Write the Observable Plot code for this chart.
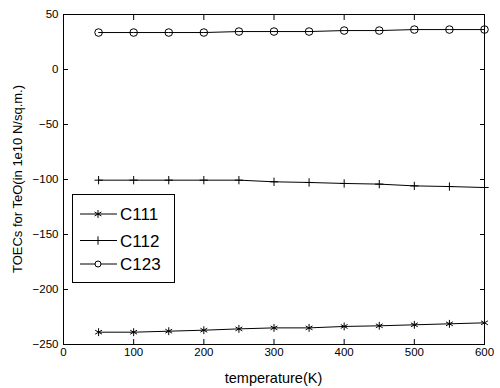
<!DOCTYPE html>
<html>
<head>
<meta charset="utf-8">
<script src="https://cdn.jsdelivr.net/npm/d3@7"></script>
<script src="https://cdn.jsdelivr.net/npm/@observablehq/plot@0.6"></script>
<style>
  html, body { margin: 0; padding: 0; background: #fff; }
  #wrap { position: relative; width: 500px; height: 388px; font-family: "Liberation Sans", Arial, sans-serif; }
  #legend { position: absolute; left: 72px; top: 194px; width: 101px; height: 87px; border: 1px solid #000; background: #fff; box-sizing: content-box; }
</style>
</head>
<body>
<div id="wrap"></div>
<script>
const temperatures = [50, 100, 150, 200, 250, 300, 350, 400, 450, 500, 550, 600];
const c111 = [-238.8, -238.8, -237.9, -237.0, -235.8, -234.9, -234.9, -233.6, -233.0, -232.1, -231.2, -230.3];
const c112 = [-100.6, -100.6, -100.6, -100.6, -100.6, -102.1, -102.7, -103.6, -104.2, -105.8, -106.4, -107.3];
const c123 = [33.6, 33.6, 33.6, 33.6, 34.5, 34.5, 34.5, 35.4, 35.4, 36.3, 36.3, 36.3];
const seriesNames = ["C111", "C112", "C123"];
const xTicks = [0, 100, 200, 300, 400, 500, 600];
const yTicks = [-250, -200, -150, -100, -50, 0, 50];
const xLabel = "temperature(K)";
const yLabel = "TOECs for TeO(in 1e10 N/sq.m.)";

const seriesValues = [c111, c112, c123];
const symbols = {C111: "asterisk", C112: "plus", C123: "circle"};
const radii = {C111: 3.7, C112: 2.8, C123: 3.8};

const rows = [];
seriesNames.forEach((name, i) => {
  temperatures.forEach((t, j) => rows.push({series: name, t, v: seriesValues[i][j]}));
});

const font = '"Liberation Sans", Arial, sans-serif';

const marks = [];
for (const name of seriesNames) {
  const d = rows.filter(r => r.series === name);
  marks.push(Plot.line(d, {x: "t", y: "v", stroke: "#000", strokeWidth: 1}));
  marks.push(Plot.dot(d, {x: "t", y: "v", symbol: () => symbols[name], r: radii[name], stroke: "#000", fill: "none", strokeWidth: 1}));
}

const chart = Plot.plot({
  width: 500,
  height: 388,
  marginLeft: 63,
  marginRight: 16,
  marginTop: 14,
  marginBottom: 44,
  style: {fontFamily: font, fontSize: "11.5px", background: "#fff", color: "#000", overflow: "visible"},
  x: {domain: [0, 600], ticks: xTicks},
  y: {domain: [-250, 50], ticks: yTicks},
  symbol: {type: "identity"},
  marks: [
    ...marks,
    Plot.frame({stroke: "#000", strokeWidth: 1}),
    Plot.axisX(xTicks, {anchor: "bottom", tickSize: -5, tickPadding: 8, fontSize: 11.5, label: null}),
    Plot.axisX(xTicks, {anchor: "top", tickSize: -5, tickFormat: () => "", label: null}),
    Plot.axisY(yTicks, {anchor: "left", tickSize: -5, tickPadding: 10, fontSize: 11.5, label: null}),
    Plot.axisY(yTicks, {anchor: "right", tickSize: -5, tickFormat: () => "", label: null})
  ]
});

const wrap = document.getElementById("wrap");
wrap.appendChild(chart);

// Axis titles, positioned from the plot's own scales
const sx = chart.scale("x"), sy = chart.scale("y");
const xMid = (sx.range[0] + sx.range[1]) / 2;
const yMid = (sy.range[0] + sy.range[1]) / 2;
const svg = d3.select(chart);
svg.append("text").attr("x", xMid).attr("y", sy.range[0] + 29).attr("dy", "0.71em")
  .attr("text-anchor", "middle").attr("font-family", font).attr("font-size", 14.5).attr("fill", "#000").text(xLabel);
svg.append("text").attr("transform", `translate(${sx.range[0] - 46},${yMid}) rotate(-90)`)
  .attr("text-anchor", "middle").attr("dy", "0.36em").attr("font-family", font).attr("font-size", 13).attr("fill", "#000").text(yLabel);

// Legend
const legend = document.createElement("div");
legend.id = "legend";
wrap.appendChild(legend);
const lsvg = d3.select(legend).append("svg").attr("width", 101).attr("height", 87).style("display", "block");
const entryY = [19, 45.5, 69];
seriesNames.forEach((name, i) => {
  const y = entryY[i];
  lsvg.append("line").attr("x1", 7).attr("x2", 44).attr("y1", y).attr("y2", y).attr("stroke", "#000").attr("stroke-width", 1);
  const symType = {asterisk: d3.symbolAsterisk, plus: d3.symbolPlus, circle: d3.symbolCircle}[symbols[name]];
  const r = name === "C123" ? 3 : radii[name];
  lsvg.append("path").attr("d", d3.symbol(symType, r * r * Math.PI)()).attr("transform", `translate(25,${y})`)
    .attr("fill", name === "C123" ? "#fff" : "none").attr("stroke", "#000").attr("stroke-width", 1);
  lsvg.append("text").attr("x", 47).attr("y", y).attr("dy", "0.36em").attr("font-family", font).attr("font-size", 17).text(name);
});
</script>
</body>
</html>
